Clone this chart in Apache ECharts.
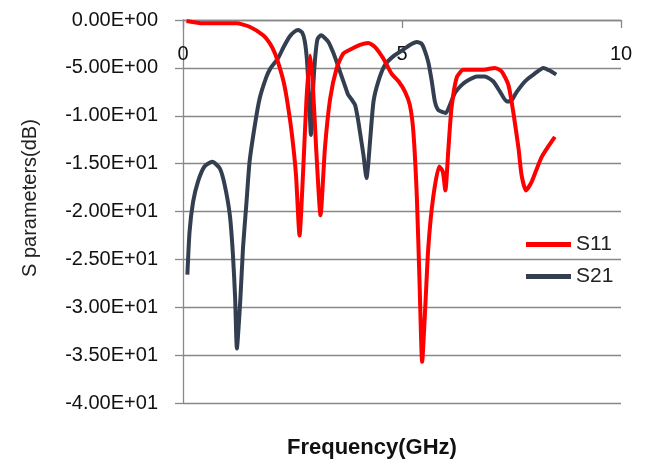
<!DOCTYPE html>
<html>
<head>
<meta charset="utf-8">
<script src="https://cdn.jsdelivr.net/npm/echarts@6/dist/echarts.min.js"></script>
<style>
html,body{margin:0;padding:0;background:#fff;}
#chart{width:646px;height:461px;}
</style>
</head>
<body>
<div id="chart"></div>
<script>
// ---- data ----
const seriesNames = ['S11', 'S21'];
const s11Freq = [0.08,0.46,1.22,1.52,1.83,1.99,2.10,2.21,2.30,2.37,2.48,2.58,2.66,2.75,2.82,2.90,2.96,3.04,3.14,3.24,3.36,3.51,3.66,3.81,4.04,4.23,4.38,4.57,4.76,4.92,5.07,5.18,5.26,5.34,5.40,5.46,5.53,5.60,5.71,5.85,5.93,5.99,6.06,6.13,6.25,6.40,6.71,6.86,7.12,7.28,7.43,7.54,7.66,7.73,7.83,7.96,8.08,8.19,8.34,8.49];
const s11dB   = [-0.1,-0.35,-0.35,-0.7,-1.6,-2.5,-3.5,-5.0,-6.5,-8.2,-11.7,-16.2,-22.5,-15.1,-8.2,-3.7,-6.4,-13.4,-20.4,-13.4,-8.2,-5.0,-3.5,-3.1,-2.6,-2.4,-2.8,-4.0,-5.6,-6.4,-7.5,-8.9,-11.7,-18.6,-27.3,-35.7,-30.1,-23.8,-18.6,-15.3,-15.8,-17.8,-13.4,-9.2,-6.0,-5.2,-5.2,-5.2,-5.0,-5.4,-6.8,-9.6,-13.4,-16.2,-17.8,-16.9,-15.5,-14.3,-13.2,-12.2];
const s21Freq = [0.10,0.15,0.23,0.34,0.49,0.67,0.84,0.95,1.07,1.14,1.19,1.23,1.31,1.37,1.45,1.52,1.64,1.75,1.90,1.99,2.17,2.30,2.44,2.55,2.63,2.72,2.78,2.83,2.88,2.92,2.95,2.98,3.02,3.07,3.15,3.22,3.32,3.42,3.51,3.60,3.70,3.77,3.85,3.93,4.00,4.04,4.12,4.19,4.23,4.27,4.35,4.46,4.61,4.80,5.03,5.18,5.34,5.45,5.52,5.60,5.68,5.75,5.83,6.00,6.10,6.21,6.36,6.51,6.71,6.89,7.08,7.24,7.39,7.50,7.62,7.81,8.00,8.23,8.38,8.52];
const s21dB   = [-26.6,-22.1,-19.0,-16.9,-15.3,-14.8,-15.5,-17.2,-20.4,-24.5,-29.0,-34.3,-29.1,-23.8,-19.0,-14.8,-11.0,-8.2,-6.0,-5.1,-4.0,-2.8,-1.7,-1.2,-1.05,-1.3,-2.2,-4.2,-8.2,-12.0,-9.0,-6.4,-3.8,-2.0,-1.6,-1.8,-2.3,-3.3,-4.4,-5.6,-6.9,-7.8,-8.3,-8.9,-10.5,-11.7,-14.1,-16.5,-15.0,-12.7,-8.5,-6.4,-4.7,-3.8,-3.1,-2.6,-2.3,-2.5,-3.2,-4.4,-6.4,-8.5,-9.4,-9.7,-8.8,-7.6,-6.8,-6.3,-5.9,-5.9,-6.4,-7.5,-8.5,-8.4,-7.5,-6.4,-5.7,-5.0,-5.3,-5.7];
const xTickLabels = ['0', '5', '10'];
const yTickLabels = ['0.00E+00','-5.00E+00','-1.00E+01','-1.50E+01','-2.00E+01','-2.50E+01','-3.00E+01','-3.50E+01','-4.00E+01'];
const xTitle = 'Frequency(GHz)';
const yTitle = 'S parameters(dB)';

const zip = (xs, ys) => xs.map((x, i) => [x, ys[i]]);
const FONT = '"Liberation Sans", Arial, sans-serif';
const GRAY = '#888888';

const chart = echarts.init(document.getElementById('chart'), null, {renderer: 'canvas'});
chart.setOption({
  animation: false,
  backgroundColor: '#ffffff',
  grid: {left: 183, top: 20, right: 25, bottom: 58, containLabel: false, outerBoundsMode: 'none'},
  legend: {
    orient: 'vertical', left: 521, top: 229, itemWidth: 45, itemHeight: 5, itemGap: 11,
    icon: 'rect',
    textStyle: {fontFamily: FONT, fontSize: 21, color: '#222222', padding: [0, 0, 0, 0]},
    data: seriesNames
  },
  xAxis: {
    type: 'value', position: 'top', min: 0, max: 10, interval: 5,
    axisLine: {show: true, onZero: false, lineStyle: {color: GRAY, width: 1.3}},
    axisTick: {show: true, inside: true, length: 8, lineStyle: {color: GRAY, width: 1.3}},
    axisLabel: {inside: true, margin: 24, fontFamily: FONT, fontSize: 20, color: '#111111',
      formatter: v => xTickLabels[Math.round(v / 5)]},
    splitLine: {show: false}
  },
  yAxis: {
    type: 'value', min: -40, max: 0, interval: 5,
    axisLine: {show: true, onZero: false, lineStyle: {color: GRAY, width: 1.3}},
    axisTick: {show: true, inside: false, length: 8, lineStyle: {color: GRAY, width: 1.3}},
    axisLabel: {margin: 25, fontFamily: FONT, fontSize: 20, color: '#111111',
      formatter: v => yTickLabels[Math.round(-v / 5)]},
    splitLine: {show: true, lineStyle: {color: GRAY, width: 1.3}}
  },
  graphic: [
    {type: 'text', left: 287, top: 437, style: {text: xTitle, font: 'bold 22px ' + FONT, fill: '#111111'}},
    {type: 'text', rotation: Math.PI / 2, x: 20, y: 277, style: {text: yTitle, font: '20px ' + FONT, fill: '#222222'}}
  ],
  series: [
    {name: seriesNames[0], type: 'line', data: zip(s11Freq, s11dB), showSymbol: false, smooth: 0.2,
     lineStyle: {color: '#ff0000', width: 4, join: 'round'}, itemStyle: {color: '#ff0000'}, z: 3},
    {name: seriesNames[1], type: 'line', data: zip(s21Freq, s21dB), showSymbol: false, smooth: 0.2,
     lineStyle: {color: '#333f50', width: 4, join: 'round'}, itemStyle: {color: '#333f50'}, z: 2}
  ]
});
</script>
</body>
</html>
